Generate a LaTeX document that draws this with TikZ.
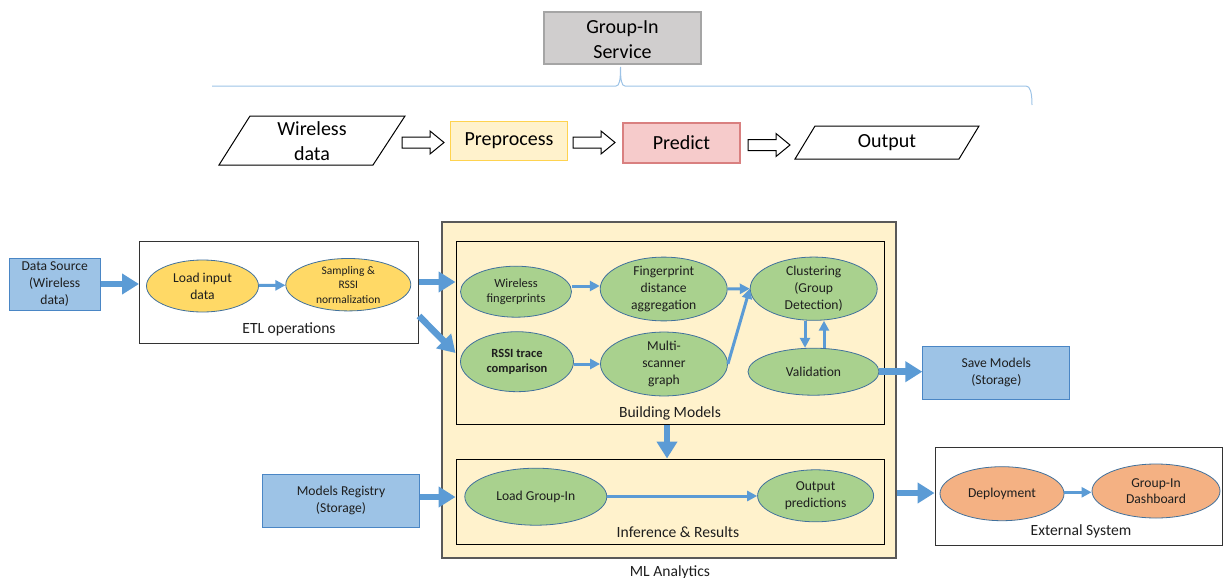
\documentclass[tikz,border=0pt]{standalone}
\usepackage{fontspec}
\setmainfont{Carlito}
\usetikzlibrary{shapes.geometric,arrows.meta}

\definecolor{txt}{HTML}{1E1E1E}
\definecolor{arrowblue}{HTML}{5B9BD5}
\definecolor{storefill}{HTML}{9DC3E6}
\definecolor{storeborder}{HTML}{4A86C5}
\definecolor{ellborder}{HTML}{41719C}
\definecolor{yellowfill}{HTML}{FFD966}
\definecolor{greenfill}{HTML}{A9D18E}
\definecolor{orangefill}{HTML}{F4B183}
\definecolor{creamfill}{HTML}{FFF2CC}
\definecolor{mlborder}{HTML}{595959}
\definecolor{svcfill}{HTML}{D0CECE}
\definecolor{svcborder}{HTML}{A5A5A5}
\definecolor{preborder}{HTML}{FFD34F}
\definecolor{predfill}{HTML}{F6CBCB}
\definecolor{predborder}{HTML}{D98080}
\definecolor{bracecol}{HTML}{9DC3E6}

\begin{document}
\begin{tikzpicture}[x=1pt,y=-1pt,
  toptext/.style={align=center,text=black,font=\fontsize{20}{25}\selectfont},
  procbox/.style={rectangle,line width=1.2pt,inner sep=0pt,align=center,text=black,
    font=\fontsize{20}{25}\selectfont},
  ioshape/.style={draw=black,line width=1pt,fill=white,line join=miter},
  hollowarrow/.pic={\draw[line width=1pt,fill=white]
    (0,-5.5) -- (28,-5.5) -- (28,-11.5) -- (42,0) -- (28,11.5) -- (28,5.5) -- (0,5.5) -- cycle;},
  lbl/.style={text=txt,font=\fontsize{15.6}{19}\selectfont},
  store/.style={rectangle,draw=storeborder,fill=storefill,line width=1pt,inner sep=0pt,
    align=center,text=txt,font=\fontsize{13.6}{16.7}\selectfont},
  plainbox/.style={rectangle,draw=black!80,fill=white,line width=1pt,inner sep=0pt},
  mlbox/.style={rectangle,draw=mlborder,fill=creamfill,line width=1.3pt,inner sep=0pt},
  subbox/.style={rectangle,draw=black,line width=1pt,inner sep=0pt},
  ell/.style={ellipse,draw=ellborder,line width=0.8pt,inner sep=0pt,align=center,text=txt,
    font=\fontsize{13.6}{16.7}\selectfont},
  bigarrow/.style={draw=arrowblue,line width=6.5pt,-{Triangle[length=17pt,width=20pt]}},
  thinarrow/.style={draw=arrowblue,line width=3pt,-{Triangle[length=10pt,width=10pt]}}
]
\useasboundingbox (0,0) rectangle (1223,578);

% ---------- service overview ----------
\node[procbox,fill=svcfill,draw=svcborder,minimum width=157,minimum height=52] (svc) at (622.5,38) {};
\node[toptext] (svctext) at (622.5,40) {Group-In\\Service};
\draw[bracecol,line width=1pt]
  (212,86) -- (616,86) .. controls (619.5,86) and (620.5,80) .. (620.5,67)
  .. controls (620.5,80) and (621.5,86) .. (625,86) -- (1026,86)
  .. controls (1030,86) and (1032,92) .. (1032,105);

\draw[ioshape] (250,116) -- (405,116) -- (373,165) -- (219,165) -- cycle;
\node[toptext] (wd) at (312,141) {Wireless\\data};
\pic at (402,142.5) {hollowarrow};
\node[procbox,fill=creamfill,draw=preborder,minimum width=117,minimum height=39] (pre) at (509,141) {Preprocess};
\pic at (573,142.5) {hollowarrow};
\node[procbox,fill=predfill,draw=predborder,minimum width=117,minimum height=40] (prd) at (681.5,143) {Predict};
\pic at (748,145) {hollowarrow};
\draw[ioshape] (815,126) -- (979,126) -- (959,159) -- (795,159) -- cycle;
\node[toptext] (out) at (887,143) {Output};

% ---------- containers ----------
\node[plainbox,minimum width=279,minimum height=102] (etl) at (279,292) {};
\node[lbl] (etllbl) at (289,329) {ETL operations};

\node[mlbox,minimum width=454,minimum height=336] (ml) at (669,390) {};
\node[lbl] (mllbl) at (670,572) {ML Analytics};
\node[subbox,minimum width=428,minimum height=183] (bm) at (670,332.5) {};
\node[lbl] (bmlbl) at (670,413) {Building Models};
\node[subbox,minimum width=428,minimum height=85] (inf) at (670,501.5) {};
\node[lbl] (inflbl) at (678,532) {Inference \& Results};

\node[plainbox,minimum width=287,minimum height=98] (ext) at (1078.5,496) {};
\node[lbl] (extlbl) at (1081,531) {External System};

% ---------- storage ----------
\node[store,minimum width=91,minimum height=52] (src) at (54.7,284) {Data Source\\(Wireless\\data)};
\node[store,minimum width=147,minimum height=53] (save) at (996.3,372.7) {Save Models\\(Storage)};
\node[store,minimum width=157,minimum height=53] (reg) at (341,500.7) {Models Registry\\(Storage)};

% ---------- ETL steps ----------
\node[ell,fill=yellowfill,minimum width=112,minimum height=52] (load) at (202.5,286) {Load input\\data};
\node[ell,fill=yellowfill,minimum width=125,minimum height=51,
  font=\fontsize{11.5}{14.5}\selectfont] (samp) at (348.3,284.7) {Sampling \&\\RSSI\\normalization};

% ---------- model building ----------
\node[ell,fill=greenfill,minimum width=111,minimum height=51,
  font=\fontsize{12.5}{15.3}\selectfont] (wf) at (516,291.7) {Wireless\\fingerprints};
\node[ell,fill=greenfill,minimum width=127,minimum height=55] (fda) at (663.7,289) {Fingerprint\\distance\\aggregation};
\node[ell,fill=greenfill,minimum width=127,minimum height=57] (clust) at (813.7,288.7) {Clustering\\(Group\\Detection)};
\node[ell,fill=greenfill,minimum width=113,minimum height=60,
  font=\bfseries\fontsize{12.5}{15.3}\selectfont] (rssi) at (517,361.7) {RSSI trace\\comparison};
\node[ell,fill=greenfill,minimum width=127,minimum height=58] (msg) at (664,364) {Multi-\\scanner\\graph};
\node[ell,fill=greenfill,minimum width=131,minimum height=47] (val) at (813.5,371.7) {Validation};

% ---------- inference ----------
\node[ell,fill=greenfill,minimum width=142,minimum height=57] (lgi) at (535.8,496.7) {Load Group-In};
\node[ell,fill=greenfill,minimum width=116,minimum height=52] (op) at (815.6,495.8) {Output\\predictions};

% ---------- external system ----------
\node[ell,fill=orangefill,minimum width=124,minimum height=54] (dep) at (1002,493.7) {Deployment};
\node[ell,fill=orangefill,minimum width=128,minimum height=54] (dash) at (1156,491) {Group-In\\Dashboard};

% ---------- connectors ----------
\draw[bigarrow] (src.east) -- (etl.west |- src.east);
\draw[bigarrow] (etl.east |- 0,282) -- (bm.west |- 0,282);
\draw[bigarrow] (etl.east |- 0,316) -- (bm.west |- 0,353);
\draw[bigarrow] (val.east) -- (save.west |- val.east);
\draw[bigarrow] (bm.south -| 667,0) -- (inf.north -| 667,0);
\draw[bigarrow] (reg.east |- 0,497) -- (inf.west |- 0,497);
\draw[bigarrow] (ml.east |- 0,493) -- (ext.west |- 0,493);

\draw[thinarrow] (load) -- (samp);
\draw[thinarrow] (wf.east |- 0,286) -- (fda.west |- 0,286);
\draw[thinarrow] (fda.east) -- (clust.west);
\draw[thinarrow] (msg.east) -- (clust.west);
\draw[thinarrow] (rssi.east |- 0,364) -- (msg.west |- 0,364);
\draw[thinarrow] (clust.south -| 805,0) -- (val.north -| 805,0);
\draw[thinarrow] (val.north -| 824,0) -- (clust.south -| 824,0);
\draw[thinarrow] (lgi.east |- 0,496) -- (op.west |- 0,496);
\draw[thinarrow] (dep.east |- 0,492.3) -- (dash.west |- 0,492.3);
\end{tikzpicture}
\end{document}
